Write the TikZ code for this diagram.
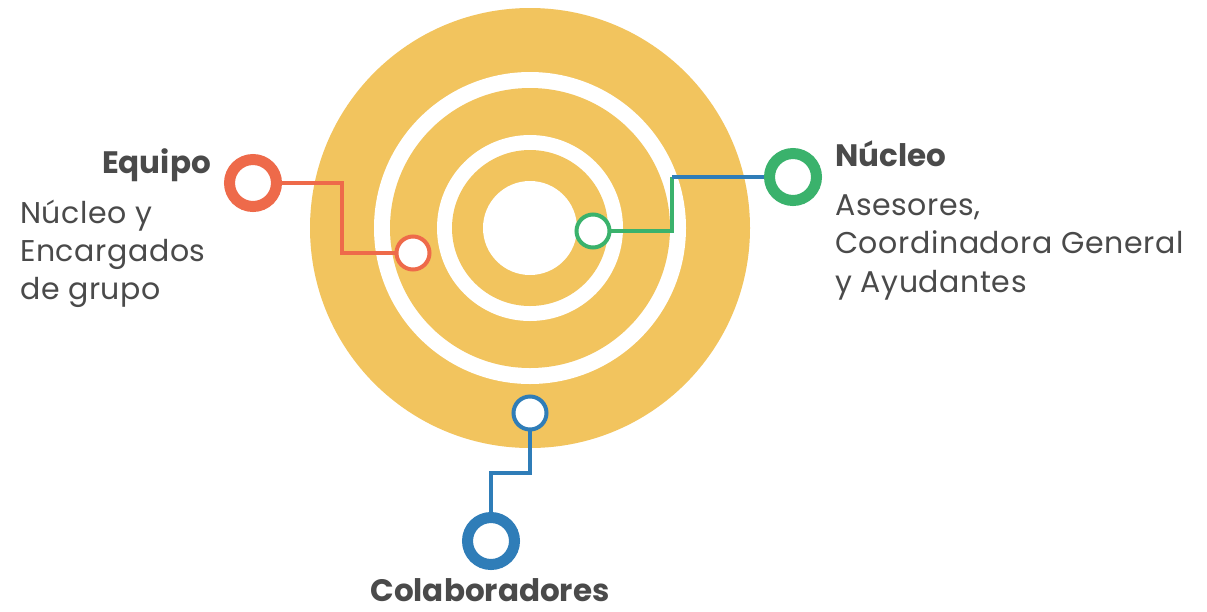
\documentclass[tikz,border=0pt]{standalone}
\usepackage{fontspec}
\setmainfont{Poppins}
\definecolor{ring}{HTML}{F2C45E}
\definecolor{cred}{HTML}{EE6A4A}
\definecolor{cgreen}{HTML}{3AB26C}
\definecolor{cblue}{HTML}{2F7DB8}
\definecolor{txt}{HTML}{4A4A4A}
\pgfdeclarelayer{back}
\pgfdeclarelayer{mid}
\pgfsetlayers{back,mid,main}
\tikzset{
  bigring/.style={circle,draw=#1,fill=white,line width=11pt,minimum size=47pt,inner sep=0pt},
  smallring/.style={circle,draw=#1,fill=white,line width=4pt,minimum size=33pt,inner sep=0pt},
  conn/.style={draw=#1,line width=4pt},
  title/.style={font=\fontsize{31}{36}\selectfont\bfseries,text=txt,inner sep=0pt},
  body/.style={font=\fontsize{30}{36}\selectfont\addfontfeatures{LetterSpace=2},text=txt,inner sep=0pt},
}
\begin{document}
\begin{tikzpicture}[x=1pt,y=-1pt]
\useasboundingbox (0,0) rectangle (1207,611);
\begin{pgfonlayer}{back}
  \fill[white] (0,0) rectangle (1207,611);
  \fill[ring] (530,228) circle (220);
  \fill[white] (530,228) circle (156);
  \fill[ring] (530,228) circle (140);
  \fill[white] (530,228) circle (93);
  \fill[ring] (530,228) circle (78);
  \fill[white] (530,228) circle (47);
\end{pgfonlayer}
% nodes
\node[bigring=cred] (eqbig) at (253,183) {};
\node[smallring=cred] (eqsmall) at (413,253) {};
\node[bigring=cgreen] (nubig) at (793,177) {};
\node[smallring=cgreen] (nusmall) at (593,231) {};
\node[bigring=cblue] (cobig) at (491,541) {};
\node[smallring=cblue] (cosmall) at (530,413) {};
\coordinate (gbend) at (672,177);
% connectors
\begin{pgfonlayer}{mid}
  \draw[conn=cred] (eqbig.center) -| (342,253) -- (eqsmall.center);
  \draw[conn=cgreen] (nusmall.center) -| (gbend);
  \draw[conn=cblue] (gbend) -- (nubig.center);
  \draw[conn=cblue] (cosmall.center) -- (530,473) -| (cobig.center);
\end{pgfonlayer}
% texts
\node[title,anchor=base east] (t1) at (211,173) {Equipo};
\node[body,anchor=base west] (t1a) at (20,223) {Núcleo y};
\node[body,anchor=base west] (t1b) at (20,261) {Encargados};
\node[body,anchor=base west] (t1c) at (20,299) {de grupo};
\node[title,anchor=base west] (t2) at (835,166) {Núcleo};
\node[body,anchor=base west] (t2a) at (835,215) {Asesores,};
\node[body,anchor=base west] (t2b) at (835,253) {Coordinadora General};
\node[body,anchor=base west] (t2c) at (835,292) {y Ayudantes};
\node[title,anchor=base] (t3) at (490,601) {Colaboradores};
\end{tikzpicture}
\end{document}
